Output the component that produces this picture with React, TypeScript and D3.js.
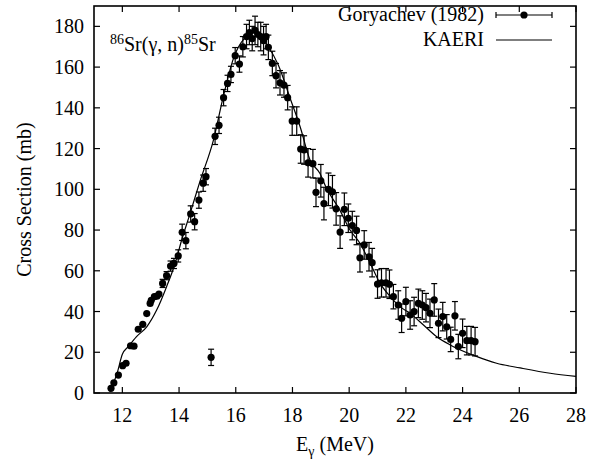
import React, { useEffect, useRef } from "react";
import * as d3 from "d3";

// Goryachev (1982) measured points
const expEnergy = [
  11.6, 11.7, 11.86, 12.01, 12.13, 12.29, 12.41, 12.56, 12.72, 12.86, 12.98, 13.02, 13.13, 13.22, 13.29,
  13.42, 13.56, 13.7, 13.82, 13.97, 14.11, 14.24, 14.41, 14.55, 14.7, 14.85, 14.95, 15.13, 15.27, 15.41,
  15.57, 15.71, 15.83, 15.98, 16.13, 16.25, 16.38, 16.48, 16.58, 16.68, 16.78, 16.88, 16.98, 17.07, 17.15,
  17.29, 17.42, 17.56, 17.7, 17.83, 17.99, 18.15, 18.29, 18.41, 18.55, 18.72, 18.83, 19.0, 19.11, 19.27,
  19.41, 19.54, 19.68, 19.83, 19.97, 20.11, 20.26, 20.38, 20.53, 20.7, 20.81, 21.0, 21.14, 21.3, 21.42,
  21.56, 21.73, 21.85, 22.0, 22.15, 22.29, 22.44, 22.58, 22.71, 22.85, 23.0, 23.15, 23.3, 23.44, 23.58,
  23.73, 23.85, 24.0, 24.15, 24.3, 24.44,
];
const expSigma = [
  2.3, 5, 8.8, 13.4, 14.6, 23.2, 23, 31.3, 33.7, 39, 44, 45.5, 47.3, 47.5, 48.6,
  53.8, 57.6, 62.3, 63.6, 67.3, 78.9, 74.8, 87.9, 84.1, 94.7, 103, 106.2, 17.5, 126, 131.4,
  145, 152, 156.4, 165.6, 161.5, 170, 175, 177, 174, 178, 176, 175, 173, 175, 169.7,
  161.8, 155.8, 152.3, 151.2, 145, 133.5, 133.5, 119.8, 119.3, 113, 112.6, 98.5, 104.2, 93, 100,
  98.8, 90.4, 79, 90.2, 85.8, 82.2, 79.8, 66.4, 72.7, 66.9, 64, 53.5, 54.1, 54.1, 53.4,
  47.3, 43.2, 36.7, 44.9, 38.3, 40, 44, 43.2, 41.9, 39.1, 45.7, 34.2, 37.5, 32.5, 26.3,
  37.9, 22.8, 29.3, 25.7, 25.7, 25.2,
];
const expError = [
  1, 1, 1, 1, 1, 1, 1, 1, 1, 1.5, 1.5, 1.5, 1.5, 1.5, 1.5,
  2, 2, 2.5, 2.5, 3, 4, 4, 4, 4, 4, 4, 4, 4, 4, 4,
  4, 4, 4, 4, 4, 5, 6, 6, 6, 7, 6, 7, 7, 6, 6,
  6, 6, 6, 6, 6, 7, 7, 7, 7, 7, 7, 7, 8, 8, 8,
  8, 8, 8, 8, 7, 7, 7, 7, 7, 7, 7, 7, 7, 7, 7,
  6, 7, 7, 7, 7, 7, 7, 7, 7, 7, 8, 7, 7, 6, 6,
  7, 6, 7, 7, 7, 7,
];

// KAERI evaluation curve
const kaeriEnergy = [
  11.56, 11.82, 12.0, 12.21, 12.5, 12.86, 13.21, 13.56, 13.86, 14.09, 14.39, 14.74, 15.21, 15.56, 15.92,
  16.3, 16.7, 17.15, 17.5, 17.92, 18.27, 18.62, 18.97, 19.2, 19.67, 20.03, 20.38, 20.74, 21.09, 21.45,
  21.79, 22.15, 22.62, 23.09, 23.56, 24.44, 25.2, 26.03, 27.09, 28.0,
];
const kaeriSigma = [
  0.6, 10, 19, 22.8, 27.7, 32.5, 40.7, 52.2, 63.6, 75, 88.2, 104, 124, 145.5, 164.3,
  174, 177, 170, 161, 144.6, 130.7, 114.4, 107.8, 100.5, 89.8, 80, 73.5, 63.7, 53.8, 47.3,
  42.4, 39.1, 33.4, 27.6, 23.6, 18.2, 14.6, 12.3, 9.7, 8.2,
];

const xTicks = [12, 14, 16, 18, 20, 22, 24, 26, 28];
const yTicks = [0, 20, 40, 60, 80, 100, 120, 140, 160, 180];

const W = 596;
const H = 466;
const FONT = "Liberation Serif, Times New Roman, serif";

export default function App() {
  const ref = useRef<SVGSVGElement>(null);

  useEffect(() => {
    const svg = d3.select(ref.current);
    svg.selectAll("*").remove();

    const left = 94, right = 576, top = 6, bottom = 393;
    const x = d3.scaleLinear().domain([11, 28]).range([left, right]);
    const y = d3.scaleLinear().domain([0, 190]).range([bottom, top]);

    const g = svg.append("g").style("font-family", FONT);

    // frame
    g.append("rect")
      .attr("x", left).attr("y", top)
      .attr("width", right - left).attr("height", bottom - top)
      .attr("fill", "none").attr("stroke", "#000").attr("stroke-width", 1.6);

    // ticks, inward on all sides
    const tl = 6;
    xTicks.forEach((t) => {
      g.append("line").attr("x1", x(t)).attr("x2", x(t)).attr("y1", bottom).attr("y2", bottom - tl)
        .attr("stroke", "#000").attr("stroke-width", 1.2);
      g.append("line").attr("x1", x(t)).attr("x2", x(t)).attr("y1", top).attr("y2", top + tl)
        .attr("stroke", "#000").attr("stroke-width", 1.2);
      g.append("text").attr("x", x(t)).attr("y", bottom + 29)
        .attr("text-anchor", "middle").style("font-size", "20px")
        .text(t);
    });
    yTicks.forEach((t) => {
      g.append("line").attr("x1", left).attr("x2", left + tl).attr("y1", y(t)).attr("y2", y(t))
        .attr("stroke", "#000").attr("stroke-width", 1.2);
      g.append("line").attr("x1", right).attr("x2", right - tl).attr("y1", y(t)).attr("y2", y(t))
        .attr("stroke", "#000").attr("stroke-width", 1.2);
      g.append("text").attr("x", left - 10).attr("y", y(t) + 7)
        .attr("text-anchor", "end").style("font-size", "20px")
        .text(t);
    });

    // KAERI curve
    const kaeri = kaeriEnergy.map((e, i) => [e, kaeriSigma[i]] as [number, number]);
    g.append("path")
      .datum(kaeri)
      .attr("d", d3.line<[number, number]>().x((d) => x(d[0])).y((d) => y(d[1])).curve(d3.curveMonotoneX))
      .attr("fill", "none").attr("stroke", "#000").attr("stroke-width", 1.2);

    // Goryachev points with error bars
    const pts = expEnergy.map((e, i) => ({ e, s: expSigma[i], err: expError[i] }));
    const cap = 3;
    pts.forEach((p) => {
      if (p.err >= 2) {
        g.append("line").attr("x1", x(p.e)).attr("x2", x(p.e))
          .attr("y1", y(p.s - p.err)).attr("y2", y(p.s + p.err))
          .attr("stroke", "#000").attr("stroke-width", 1.2);
        [p.s - p.err, p.s + p.err].forEach((v) => {
          g.append("line").attr("x1", x(p.e) - cap).attr("x2", x(p.e) + cap)
            .attr("y1", y(v)).attr("y2", y(v))
            .attr("stroke", "#000").attr("stroke-width", 1.2);
        });
      }
    });
    g.selectAll("circle.pt")
      .data(pts)
      .join("circle")
      .attr("class", "pt")
      .attr("cx", (d) => x(d.e))
      .attr("cy", (d) => y(d.s))
      .attr("r", 3.6)
      .attr("fill", "#000");

    // annotation
    const ann = g.append("text").attr("x", 110).attr("y", 51).style("font-size", "20px");
    ann.append("tspan").style("font-size", "14px").attr("dy", -7).text("86");
    ann.append("tspan").attr("dy", 7).text("Sr(γ, n)");
    ann.append("tspan").style("font-size", "14px").attr("dy", -7).text("85");
    ann.append("tspan").attr("dy", 7).text("Sr");

    // legend
    const ly1 = 15, ly2 = 40;
    g.append("text").attr("x", 484).attr("y", ly1 + 6).attr("text-anchor", "end")
      .style("font-size", "20px").text("Goryachev (1982)");
    g.append("line").attr("x1", 496).attr("x2", 552).attr("y1", ly1).attr("y2", ly1)
      .attr("stroke", "#000").attr("stroke-width", 1.2);
    [496, 552].forEach((xx) => {
      g.append("line").attr("x1", xx).attr("x2", xx).attr("y1", ly1 - 3).attr("y2", ly1 + 3)
        .attr("stroke", "#000").attr("stroke-width", 1.2);
    });
    g.append("circle").attr("cx", 524).attr("cy", ly1).attr("r", 3.6).attr("fill", "#000");
    g.append("text").attr("x", 484).attr("y", ly2 + 6).attr("text-anchor", "end")
      .style("font-size", "20px").text("KAERI");
    g.append("line").attr("x1", 496).attr("x2", 552).attr("y1", ly2).attr("y2", ly2)
      .attr("stroke", "#000").attr("stroke-width", 1.2);

    // axis titles
    const xl = g.append("text").attr("x", 335).attr("y", 451).attr("text-anchor", "middle")
      .style("font-size", "20px");
    xl.append("tspan").text("E");
    xl.append("tspan").style("font-size", "14px").attr("dy", 5).text("γ");
    xl.append("tspan").attr("dy", -5).text(" (MeV)");

    g.append("text")
      .attr("transform", `translate(31, ${(top + bottom) / 2}) rotate(-90)`)
      .attr("text-anchor", "middle")
      .style("font-size", "20px")
      .text("Cross Section (mb)");
  }, []);

  return (
    <div style={{ position: "absolute", left: 0, top: 0, width: W, height: H, background: "#fff" }}>
      <svg ref={ref} width={W} height={H} />
    </div>
  );
}
